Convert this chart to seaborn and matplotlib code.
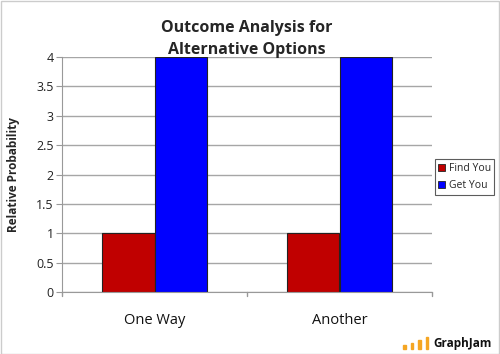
import pandas as pd
import seaborn as sns
import matplotlib.pyplot as plt
from matplotlib.patches import Rectangle

# data
categories = ['One Way', 'Another']
series = ['Find You', 'Get You']
find_you = [1, 1]
get_you = [4, 4]
colors = ['#C00000', '#0000FF']

df = pd.DataFrame({
    'option': categories * 2,
    'series': [series[0]] * 2 + [series[1]] * 2,
    'value': find_you + get_you,
})

sns.set_style('white')
plt.rcParams['font.family'] = ['Open Sans', 'DejaVu Sans']

fig = plt.figure(figsize=(5, 3.54), dpi=100)
ax = fig.add_axes([0.124, 0.175, 0.74, 0.664])

sns.barplot(data=df, x='option', y='value', hue='series', palette=colors,
            saturation=1, width=0.57, edgecolor='#222222', linewidth=0.8,
            ax=ax, legend=False)

ax.set_xlim(-0.5, 1.5)
ax.set_ylim(0, 4)
ax.set_yticks([i * 0.5 for i in range(9)])
ax.set_yticklabels(['0', '0.5', '1', '1.5', '2', '2.5', '3', '3.5', '4'], fontsize=9, color='#222222')
ax.set_xticks([0, 1])
ax.set_xticklabels(categories, fontsize=10.5, color='#111111')
ax.tick_params(axis='x', length=0, pad=15)
ax.tick_params(axis='y', length=4, color='#999999', left=True, pad=2)
# category separator ticks
for xb in [-0.5, 0.5, 1.5]:
    ax.plot([xb, xb], [0, -0.07], color='#999999', lw=1, clip_on=False)

ax.yaxis.grid(True, color='#A6A6A6', lw=1)
ax.set_axisbelow(True)
for s in ['top', 'right']:
    ax.spines[s].set_visible(False)
ax.spines['left'].set_color('#999999')
ax.spines['bottom'].set_color('#999999')

ax.set_xlabel('')
ax.set_ylabel('Relative Probability', fontsize=8.5, fontweight='bold', labelpad=12)
ax.set_title('Outcome Analysis for\nAlternative Options', fontsize=11.5, fontweight='bold',
             linespacing=1.5, pad=2)

handles = [Rectangle((0, 0), 1, 1, facecolor=c, edgecolor='#222222', lw=0.6) for c in colors]
leg = fig.legend(handles, series, loc='center left', bbox_to_anchor=(0.869, 0.5),
                 fontsize=7.5, frameon=True, fancybox=False, handlelength=0.7,
                 handleheight=0.7, handletextpad=0.3, borderpad=0.35,
                 labelspacing=0.6, borderaxespad=0)
leg.get_frame().set_edgecolor('#333333')
leg.get_frame().set_linewidth(0.8)

# GraphJam logo
for i, h in enumerate([4, 6, 9, 12]):
    fig.add_artist(Rectangle(((403 + i * 7.5) / 500, 5 / 354), 2.5 / 500, h / 354,
                             transform=fig.transFigure, color='#F5A623'))
fig.text(433 / 500, 7 / 354, 'GraphJam', fontsize=8.5, fontweight='bold', color='#111111')

# outer border
fig.add_artist(Rectangle((0.001, 0.001), 0.997, 0.997, transform=fig.transFigure,
                         fill=False, edgecolor='#CCCCCC', lw=1))

fig.savefig('out.png', dpi=100)
